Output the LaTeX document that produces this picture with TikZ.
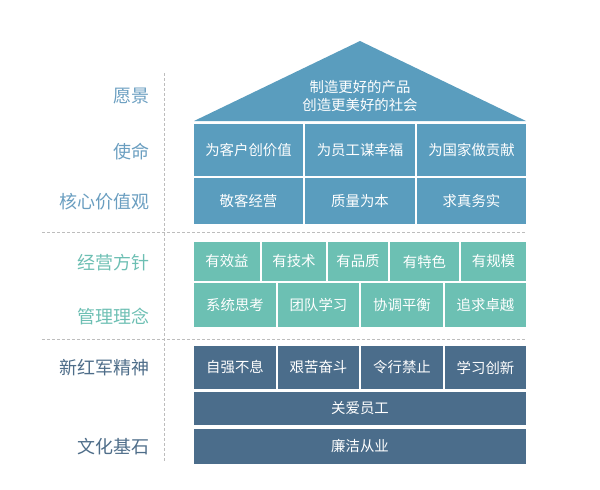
\documentclass[tikz,border=0pt]{standalone}
\usepackage{fontspec}
\setmainfont{Noto Sans CJK SC}
\definecolor{cblue}{HTML}{5A9DBE}
\definecolor{cteal}{HTML}{6CC0B3}
\definecolor{cdark}{HTML}{4B6D8B}
\definecolor{lblue}{HTML}{6A9EC0}
\definecolor{lteal}{HTML}{6DBFB3}
\definecolor{ldark}{HTML}{4E6D89}
\definecolor{dashc}{HTML}{BDBDBD}
\begin{document}
\begin{tikzpicture}[x=0.5pt,y=-0.5pt,
  cell/.style={inner sep=0pt,outer sep=0pt,text=white,font=\fontsize{7.2pt}{9pt}\selectfont,align=center},
  bcell/.style={cell,fill=cblue},
  tcell/.style={cell,fill=cteal},
  dcell/.style={cell,fill=cdark},
  lab/.style={anchor=east,inner sep=0pt,font=\fontsize{9pt}{10pt}\selectfont},
  sep/.style={draw=dashc,line width=0.5pt,dash pattern=on 1.5pt off 1pt}]
\useasboundingbox (0,0) rectangle (600,489);
% separators
\coordinate (v1) at (164,73);
\coordinate (v2) at (164,463);
\coordinate (h1a) at (42,232);
\coordinate (h1b) at (526,232);
\coordinate (h2a) at (42,339);
\coordinate (h2b) at (526,339);
\draw[sep] (v1) -- (v2);
\draw[sep] (h1a) -- (h1b);
\draw[sep] (h2a) -- (h2b);
% roof
\fill[cblue] (194,121) -- (360,41) -- (526,121) -- cycle;
\node[cell] (roof) at (360,96) {制造更好的产品\\创造更美好的社会};
% mission
\node[bcell,minimum width=54.5pt,minimum height=26pt] (m1) at (248.5,150) {为客户创价值};
\node[bcell,minimum width=55pt,minimum height=26pt] (m2) at (360,150) {为员工谋幸福};
\node[bcell,minimum width=54.5pt,minimum height=26pt] (m3) at (471.5,150) {为国家做贡献};
% values
\node[bcell,minimum width=54.5pt,minimum height=23pt] (c1) at (248.5,201) {敬客经营};
\node[bcell,minimum width=55pt,minimum height=23pt] (c2) at (360,201) {质量为本};
\node[bcell,minimum width=54.5pt,minimum height=23pt] (c3) at (471.5,201) {求真务实};
% business policy
\node[tcell,minimum width=33pt,minimum height=19.5pt] (p1) at (227,261.5) {有效益};
\node[tcell,minimum width=32pt,minimum height=19.5pt] (p2) at (294,261.5) {有技术};
\node[tcell,minimum width=30pt,minimum height=19.5pt] (p3) at (358,261.5) {有品质};
\node[tcell,minimum width=34.5pt,minimum height=19.5pt] (p4) at (424.5,261.5) {有特色};
\node[tcell,minimum width=32.5pt,minimum height=19.5pt] (p5) at (493.5,261.5) {有规模};
% management
\node[tcell,minimum width=41pt,minimum height=22pt] (g1) at (235,305) {系统思考};
\node[tcell,minimum width=40.5pt,minimum height=22pt] (g2) at (318.5,305) {团队学习};
\node[tcell,minimum width=41pt,minimum height=22pt] (g3) at (402,305) {协调平衡};
\node[tcell,minimum width=40.5pt,minimum height=22pt] (g4) at (485.5,305) {追求卓越};
% spirit
\node[dcell,minimum width=41pt,minimum height=21.5pt] (s1) at (235,367.5) {自强不息};
\node[dcell,minimum width=40.5pt,minimum height=21.5pt] (s2) at (318.5,367.5) {艰苦奋斗};
\node[dcell,minimum width=41pt,minimum height=21.5pt] (s3) at (402,367.5) {令行禁止};
\node[dcell,minimum width=40.5pt,minimum height=21.5pt] (s4) at (485.5,367.5) {学习创新};
\node[dcell,minimum width=166pt,minimum height=16.5pt] (f1) at (360,408.5) {关爱员工};
\node[dcell,minimum width=166pt,minimum height=17.5pt] (f2) at (360,446.5) {廉洁从业};
% labels
\node[lab,text=lblue] (l1) at (150,96) {愿景};
\node[lab,text=lblue] (l2) at (150,152) {使命};
\node[lab,text=lblue] (l3) at (150,202) {核心价值观};
\node[lab,text=lteal] (l4) at (150,263) {经营方针};
\node[lab,text=lteal] (l5) at (150,317) {管理理念};
\node[lab,text=ldark] (l6) at (150,368) {新红军精神};
\node[lab,text=ldark] (l7) at (150,447) {文化基石};
\end{tikzpicture}
\end{document}
